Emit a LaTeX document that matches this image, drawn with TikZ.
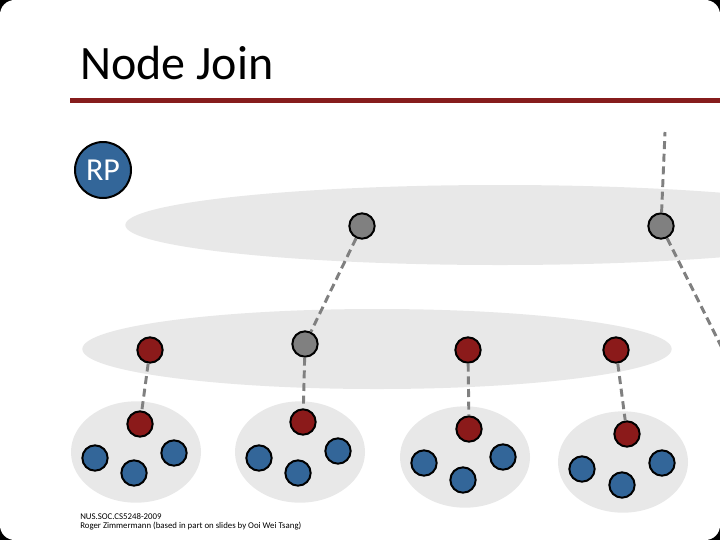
\documentclass[tikz,border=0pt]{standalone}
\usepackage{fontspec}
\setmainfont{Carlito}

\definecolor{rpblue}{HTML}{336699}
\definecolor{peerred}{HTML}{8B1A1A}
\definecolor{rulered}{HTML}{861C1C}
\definecolor{cloudgray}{HTML}{E8E8E8}
\definecolor{linkgray}{HTML}{808080}

\begin{document}
\begin{tikzpicture}[x = 0.75pt, y = -0.75pt,
	peer/.style = {draw = black, line width = 1.5pt, circle, minimum width = 19pt, minimum height = 19pt, inner sep = 0},
	link/.style = {draw = linkgray, line width = 2.2pt, dash pattern = on 6pt off 3.5pt},
	cloud/.style = {fill = cloudgray}]
					\useasboundingbox (0, 0) rectangle (720, 540);
					\fill [black] (0, 0) rectangle (720, 540);
					\fill [white, rounded corners = 11pt] (0, 0) rectangle (720, 540);

					% title and rule
					\node [anchor = base west, inner sep = 0, font = \fontsize{36}{40}\selectfont] (title) at (80, 79) {Node Join};
					\draw [rulered, line width = 3.75pt] (70, 100) -- (720, 100);

					% clouds
					\fill [cloud] (500, 225) ellipse [x radius = 281pt, y radius = 30pt];
					\fill [cloud] (377, 349) ellipse [x radius = 221pt, y radius = 30pt];
					\foreach \x/\y in { 136/452, 300/452, 465/457, 623/462 } {
						\fill [cloud] (\x, \y) ellipse [x radius = 48.75pt, y radius = 38pt];
					}

					% peers
					\node [peer, fill = rpblue, minimum width = 42pt, minimum height = 42pt, text = white, font = \fontsize{24}{27}\selectfont] (rp) at (103, 170) {RP};

					\foreach \n/\x/\y in { t1/362/226, t2/661/226, m2/305/344 } {
						\node [peer, fill = linkgray] (\n) at (\x, \y) {};
					}
					\foreach \n/\x/\y in { m1/150/350, m3/468/350, m4/616/350, c1/140/424, c2/303/422, c3/469/429, c4/627/434 } {
						\node [peer, fill = peerred] (\n) at (\x, \y) {};
					}
					\foreach \n/\x/\y in { b11/95/458, b12/134/473, b13/174/453,
						b21/259/458, b22/298/473, b23/338/451,
						b31/424/463, b32/463/480, b33/503/457,
						b41/582/469, b42/622/485, b43/662/463 } {
						\node [peer, fill = rpblue] (\n) at (\x, \y) {};
					}

					% links
					\coordinate (up) at (665, 132);
					\coordinate (off) at (722, 348);
					\draw [link] (t2) to (up);
					\draw [link] (t2) to (off);
					\draw [link] (t1) to (m2);
					\draw [link] (m1) to (c1);
					\draw [link] (m2) to (c2);
					\draw [link] (m3) to (c3);
					\draw [link] (m4) to (c4);

					% footer
					\node [anchor = north west, inner sep = 0, align = left, font = \fontsize{6.6}{7}\selectfont] (foot) at (80, 513) {NUS.SOC.CS5248-2009\\Roger Zimmermann (based in part on slides by Ooi Wei Tsang)};
				\end{tikzpicture}
\end{document}
